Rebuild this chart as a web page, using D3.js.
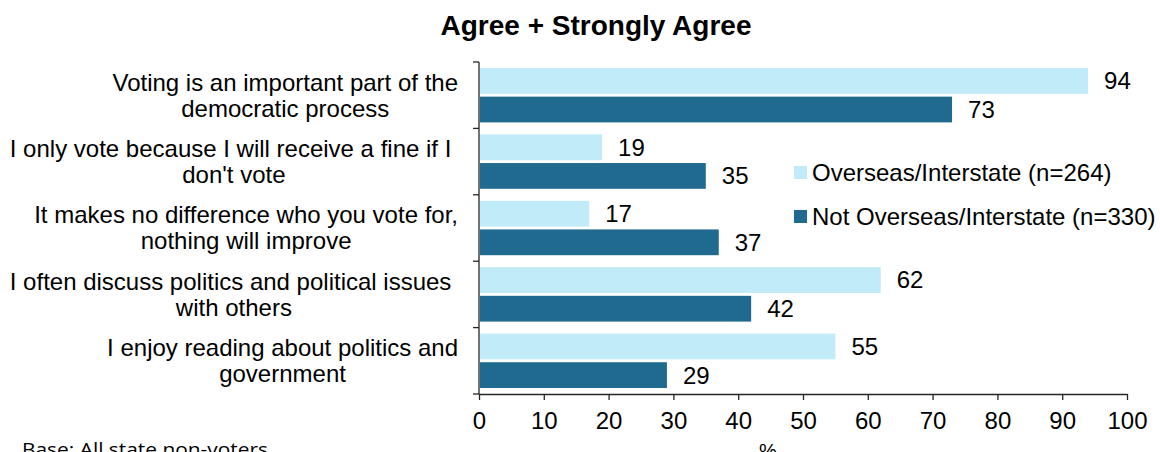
<!DOCTYPE html>
<html><head><meta charset="utf-8">
<script src="https://cdn.jsdelivr.net/npm/d3@7"></script>
<style>body{margin:0;background:#fff}text{font-family:"Liberation Sans",Arial,sans-serif;fill:#000}</style>
</head><body><svg id="c" width="1160" height="452"></svg>
<script>
const categories = [
  ["Voting is an important part of the", "democratic process"],
  ["I only vote because I will receive a fine if I ", "don't vote"],
  ["It makes no difference who you vote for,", "nothing will improve"],
  ["I often discuss politics and political issues ", "with others"],
  ["I enjoy reading about politics and", "government"]
];
const seriesNames = ["Overseas/Interstate (n=264)", "Not Overseas/Interstate (n=330)"];
const overseas = [94, 19, 17, 62, 55];
const notOverseas = [73, 35, 37, 42, 29];
const xTicks = [0,10,20,30,40,50,60,70,80,90,100];
const colors = ["#C1EBF8", "#1F6A8E"];

const FS = "24px";
const svg = d3.select("#c");
const x = d3.scaleLinear().domain([0,100]).range([479,1127]);
const y = d3.scaleBand().domain(d3.range(categories.length)).range([62,394]).paddingInner(0).paddingOuter(0);
const inner = d3.scaleBand().domain([0,1]).range([6, y.bandwidth()-6]).paddingInner(0.1);

svg.append("text").attr("x",596).attr("y",35).attr("text-anchor","middle")
  .style("font-weight","bold").style("font-size","28px").text("Agree + Strongly Agree");

const series = [overseas, notOverseas];
series.forEach((vals, s) => {
  const g = svg.append("g");
  g.selectAll("rect").data(vals).join("rect")
    .attr("x", x(0)+1).attr("y", (d,i)=>y(i)+inner(s))
    .attr("width", d=>x(d)-x(0)-1).attr("height", inner.bandwidth())
    .attr("fill", colors[s]);
  g.selectAll("text").data(vals).join("text")
    .attr("x", d=>x(d)+16).attr("y", (d,i)=>y(i)+inner(s)+inner.bandwidth()/2)
    .attr("dy","0.35em").style("font-size",FS).text(d=>d);
});

// y axis
const ya = svg.append("g").attr("transform",`translate(${x(0)},0)`);
ya.append("line").attr("x1",0).attr("x2",0).attr("y1",62).attr("y2",394).attr("stroke","#262626").attr("stroke-width",1.3);
const yTickPos = d3.range(categories.length+1).map(i => i<categories.length ? y(i) : 394);
ya.selectAll("line.t").data(yTickPos).join("line").attr("class","t")
  .attr("x1",-6).attr("x2",0).attr("y1",d=>d).attr("y2",d=>d).attr("stroke","#262626").attr("stroke-width",1.3);

// x axis
const xa = svg.append("g").attr("transform","translate(0,394)")
  .call(d3.axisBottom(x).tickValues(xTicks).tickSize(6).tickSizeOuter(0).tickPadding(12));
xa.select(".domain").attr("stroke","#262626").attr("stroke-width",1.3);
xa.selectAll(".tick line").attr("stroke","#262626").attr("stroke-width",1.3);
xa.selectAll(".tick text").style("font-size",FS).style("font-family","Liberation Sans, Arial, sans-serif").attr("fill","#000");

svg.append("text").attr("x",768).attr("y",458).attr("text-anchor","middle").style("font-size","20px").text("%");
svg.append("text").attr("x",22).attr("y",456).style("font-size","19px").style("font-family","'Open Sans', sans-serif")
  .attr("textLength",246).attr("lengthAdjust","spacingAndGlyphs").text("Base: All state non-voters");

// category labels
const labG = svg.append("g");
categories.forEach((lines, i) => {
  const t = labG.append("text").style("font-size",FS).style("white-space","pre").attr("text-anchor","middle");
  const ws = lines.map(l => { const tt = labG.append("text").style("font-size",FS).style("white-space","pre").text(l); const w = tt.node().getComputedTextLength(); tt.remove(); return w; });
  const maxW = d3.max(ws);
  const cx = 458 - maxW/2;
  const cy = y(i) + y.bandwidth()/2;
  lines.forEach((l, k) => {
    t.append("tspan").attr("x", cx).attr("y", cy + (k - (lines.length-1)/2)*26).attr("dy","0.35em").text(l);
  });
});

// legend
const lg = svg.append("g");
seriesNames.forEach((n, s) => {
  const ly = 173 + s*44;
  lg.append("rect").attr("x",794).attr("y",ly-7).attr("width",13).attr("height",13).attr("fill",colors[s]);
  lg.append("text").attr("x",812).attr("y",ly).attr("dy","0.35em").style("font-size",FS).text(n);
});
</script></body></html>
